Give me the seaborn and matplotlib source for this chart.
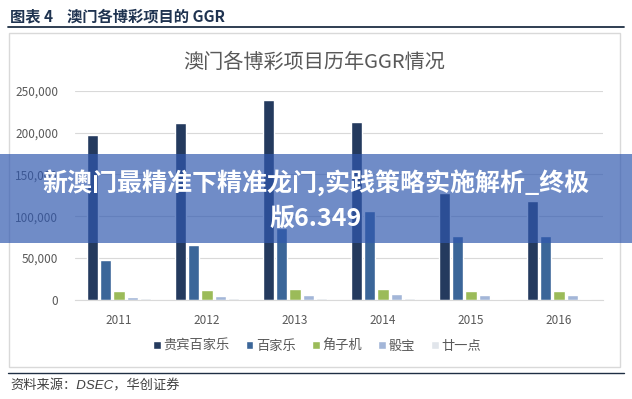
import pandas as pd
import numpy as np
import matplotlib
matplotlib.use("Agg")
import matplotlib.pyplot as plt
import seaborn as sns
from matplotlib.patches import Rectangle
from matplotlib.lines import Line2D
from matplotlib.ticker import FuncFormatter

# data (MOP million)
years = ["2011", "2012", "2013", "2014", "2015", "2016"]
series = ["贵宾百家乐", "百家乐", "角子机", "骰宝", "廿一点"]
vip_baccarat = [197000, 211000, 238500, 212500, 127500, 118500]
baccarat = [48000, 66000, 86500, 106500, 76000, 76500]
slots = [10800, 12000, 13200, 13200, 10800, 10800]
sicbo = [3600, 5000, 6400, 7600, 6400, 6400]
blackjack = [2400, 2400, 2400, 2400, 1500, 1500]
colors = ["#243a5e", "#3b6699", "#9bbb59", "#a3b6d8", "#e1e5eb"]

rows = []
for name, vals in zip(series, [vip_baccarat, baccarat, slots, sicbo, blackjack]):
    for y, v in zip(years, vals):
        rows.append({"年份": y, "项目": name, "GGR": v})
df = pd.DataFrame(rows)

sns.set_style("white")
plt.rcParams["font.family"] = ["Noto Sans CJK SC", "DejaVu Sans"]

W, H = 632, 399
fig = plt.figure(figsize=(W / 100, H / 100), dpi=100)

# plot area in pixel coords
left, right, top, bottom = 75, 603, 90.7, 300
ax = fig.add_axes([left / W, 1 - bottom / H, (right - left) / W, (bottom - top) / H])

sns.barplot(data=df, x="年份", y="GGR", hue="项目", palette=colors, width=0.76,
            gap=0.16, ax=ax, saturation=1, legend=True)

ax.set_ylim(0, 250000)
ax.set_yticks(np.arange(0, 250001, 50000))
ax.yaxis.set_major_formatter(FuncFormatter(lambda v, p: f"{int(v):,}"))
ax.grid(axis="y", color="#d9d9d9", linewidth=0.8)
ax.set_axisbelow(True)
for s in ["top", "right", "left"]:
    ax.spines[s].set_visible(False)
ax.spines["bottom"].set_color("#d9d9d9")
ax.tick_params(axis="both", length=0, labelsize=8.5, labelcolor="#595959")
ax.tick_params(axis="x", pad=10)
ax.tick_params(axis="y", pad=12)
ax.set_xlabel("")
ax.set_ylabel("")

handles, labels = ax.get_legend_handles_labels()
ax.get_legend().remove()
fig.legend(handles, labels, loc="center", bbox_to_anchor=(317 / W, 1 - 346 / H), ncol=5,
           frameon=False, fontsize=9.5, labelcolor="#595959", handlelength=0.6,
           handleheight=0.6, handletextpad=0.2, columnspacing=1.2)

# chart title
fig.text(314 / W, 1 - 62 / H, "澳门各博彩项目历年GGR情况", ha="center", va="center",
         fontsize=14.5, color="#595959")

# chart frame
fig.patches.append(Rectangle((9 / W, 1 - 367 / H), 611 / W, 334 / H, transform=fig.transFigure,
                             fill=False, edgecolor="#d9d9d9", linewidth=1))

# report header and source
fig.text(10 / W, 1 - 16 / H, "图表 4    澳门各博彩项目的 GGR", ha="left", va="center",
         fontsize=11, fontweight="bold", color="#1f3350")
fig.lines.append(Line2D([8 / W, 624 / W], [1 - 27 / H, 1 - 27 / H], transform=fig.transFigure,
                        color="#1f2f44", linewidth=1.3))
fig.lines.append(Line2D([8 / W, 624 / W], [1 - 373 / H, 1 - 373 / H], transform=fig.transFigure,
                        color="#1f2f44", linewidth=1.0))
fig.text(10 / W, 1 - 386 / H, "资料来源：DSEC，华创证券", ha="left", va="center",
         fontsize=9.5, style="italic", color="#404040",
         family=["Liberation Sans", "Noto Sans CJK SC"])

# overlay banner
fig.patches.append(Rectangle((0, 1 - 243 / H), 1, 89 / H, transform=fig.transFigure,
                             facecolor=(48 / 255, 88 / 255, 175 / 255), alpha=0.69,
                             edgecolor="none", zorder=10))
fig.text(316 / W, 1 - 183 / H, "新澳门最精准下精准龙门,实践策略实施解析_终极", ha="center",
         va="center", fontsize=18, fontweight="heavy", color="white", zorder=11)
fig.text(316 / W, 1 - 219 / H, "版6.349", ha="center", va="center", fontsize=18,
         fontweight="heavy", color="white", zorder=11)

fig.savefig("out.png", dpi=100)
